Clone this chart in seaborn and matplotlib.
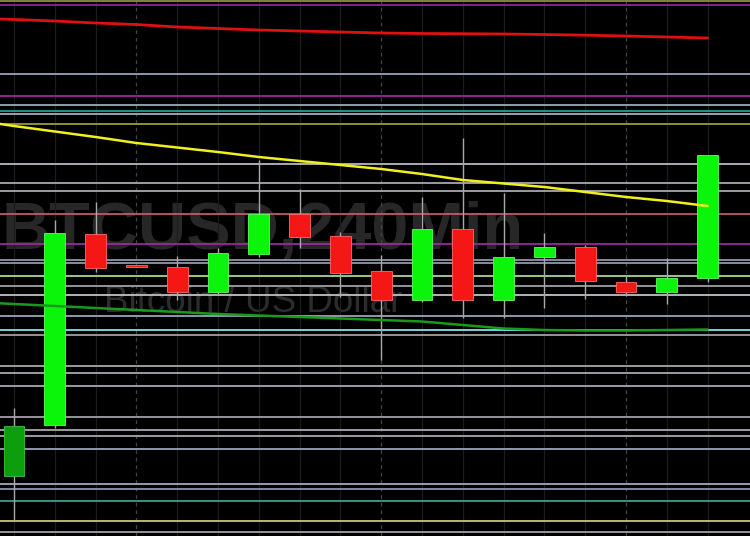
import numpy as np
import pandas as pd
import seaborn as sns
import matplotlib.pyplot as plt

# BTCUSD 240 min candles (price units)
candle_idx = list(range(18))
bar_open = [8748, 8850, 9232, 9170, 9166, 9116, 9192, 9272, 9228, 9158, 9100, 9242, 9100, 9186, 9206, 9136, 9116, 9144]
bar_high = [8884, 9260, 9296, 9170, 9188, 9204, 9380, 9322, 9236, 9190, 9306, 9424, 9314, 9234, 9210, 9150, 9184, 9390]
bar_low = [8660, 8844, 9156, 9166, 9100, 9110, 9186, 9204, 9106, 8980, 9096, 9064, 9064, 9084, 9102, 9108, 9092, 9136]
bar_close = [8848, 9234, 9164, 9166, 9116, 9194, 9272, 9226, 9154, 9100, 9242, 9100, 9186, 9206, 9138, 9116, 9144, 9390]

# moving averages (one point before the first visible candle)
ma_idx = list(range(-1, 18))
ma_red = [9664, 9661, 9658, 9654, 9651, 9646, 9643, 9640, 9638, 9636, 9634, 9633, 9632.6, 9632, 9631, 9629.6, 9628, 9626, 9624]
ma_yellow = [9460, 9448, 9437, 9426, 9414, 9405, 9396, 9386, 9378, 9370, 9362, 9352, 9340, 9333, 9326, 9316, 9306, 9298, 9288]
ma_green = [9096, 9092, 9088, 9084, 9080, 9076, 9072, 9069, 9066, 9063, 9060, 9057, 9050, 9043, 9040, 9039, 9039, 9040, 9041]

# horizontal support / resistance levels
levels = [9698, 9691, 9552, 9508, 9490, 9478, 9472, 9452, 9372, 9334, 9318, 9272, 9212, 9180, 9174,
          9148, 9128, 9110, 9068, 9040, 9030, 8968, 8954, 8928, 8866, 8840, 8828, 8802, 8732, 8722,
          8698, 8658, 8636]
level_colors = ['#8c8c3c', '#8a2a8a', '#9aa4b8', '#9a2a9a', '#a0a8b8', '#2a9a9a', '#a0b0c0', '#9a9a3a',
                '#b8b8c0', '#a8a8b0', '#a8a8b0', '#c05a6a', '#9a2a9a', '#9098a8', '#9098a8',
                '#a8d890', '#a0a0a8', '#c0c0c8', '#9aa4b8', '#80e0f0', '#a0a0a8', '#a8a8b0', '#a8a8b0',
                '#a8a8b0', '#a0a0a8', '#a8a8b0', '#a8a8b0', '#9aa4b8', '#a8a8b0', '#8a94b0',
                '#3aa090', '#c8c870', '#a0a0a8']

sns.set_theme(style="dark", rc={"axes.facecolor": "black", "figure.facecolor": "black",
                                "axes.edgecolor": "black"})
plt.rcParams['font.family'] = ['Liberation Sans', 'DejaVu Sans']

fig = plt.figure(figsize=(7.5, 5.36), dpi=100)
ax = fig.add_axes([0, 0, 1, 1])
ax.set_xlim(-0.343, 18.04)
ax.set_ylim(8628, 9700)

# watermark
ax.text(-0.30, 9237, "BTCUSD,240Min", fontsize=48, fontweight='bold', color='#272727',
        ha='left', va='center', zorder=0)
ax.text(5.86, 9094, "Bitcoin / US Dollar", fontsize=26.5, color='#2c2c2c',
        ha='center', va='center', zorder=0)

# vertical grid
for i in candle_idx:
    if i % 6 == 3:
        ax.axvline(i, color='#444444', lw=0.9, ls=(0, (3, 3)), zorder=0.5)
    else:
        ax.axvline(i, color='#1c1c1c', lw=0.9, zorder=0.5)

# levels
for lv, c in zip(levels, level_colors):
    ax.axhline(lv, color=c, lw=1.3, zorder=1)

# candles
df = pd.DataFrame({"i": candle_idx, "open": bar_open, "high": bar_high,
                   "low": bar_low, "close": bar_close})
df["up"] = df["close"] >= df["open"]
body_col = np.where(df["up"], '#0af50a', '#f51616')
body_col[0] = '#0c9e0c'
edge_col = np.where(df["up"], '#5cff5c', '#ff6a6a')
edge_col[0] = '#40c040'
ax.vlines(df["i"], df["low"], df["high"], color='#a8a8a8', lw=1.0, zorder=3)
bottoms = np.minimum(df["open"], df["close"])
heights = np.maximum(np.abs(df["close"] - df["open"]), 3)
ax.bar(df["i"], heights, bottom=bottoms, width=0.51, color=body_col,
       edgecolor=edge_col, linewidth=0.6, zorder=4)

# moving averages
ma = pd.DataFrame({"i": ma_idx, "red": ma_red, "yellow": ma_yellow, "green": ma_green})
sns.lineplot(data=ma, x="i", y="red", color='#e01010', lw=2.0, ax=ax, zorder=5)
sns.lineplot(data=ma, x="i", y="yellow", color='#f0f020', lw=1.8, ax=ax, zorder=5)
sns.lineplot(data=ma, x="i", y="green", color='#1a9a1a', lw=1.8, ax=ax, zorder=5)

ax.set_xticks([])
ax.set_yticks([])
ax.set_xlabel("")
ax.set_ylabel("")
for s in ax.spines.values():
    s.set_visible(False)

fig.savefig("out.png", dpi=100, facecolor='black')
